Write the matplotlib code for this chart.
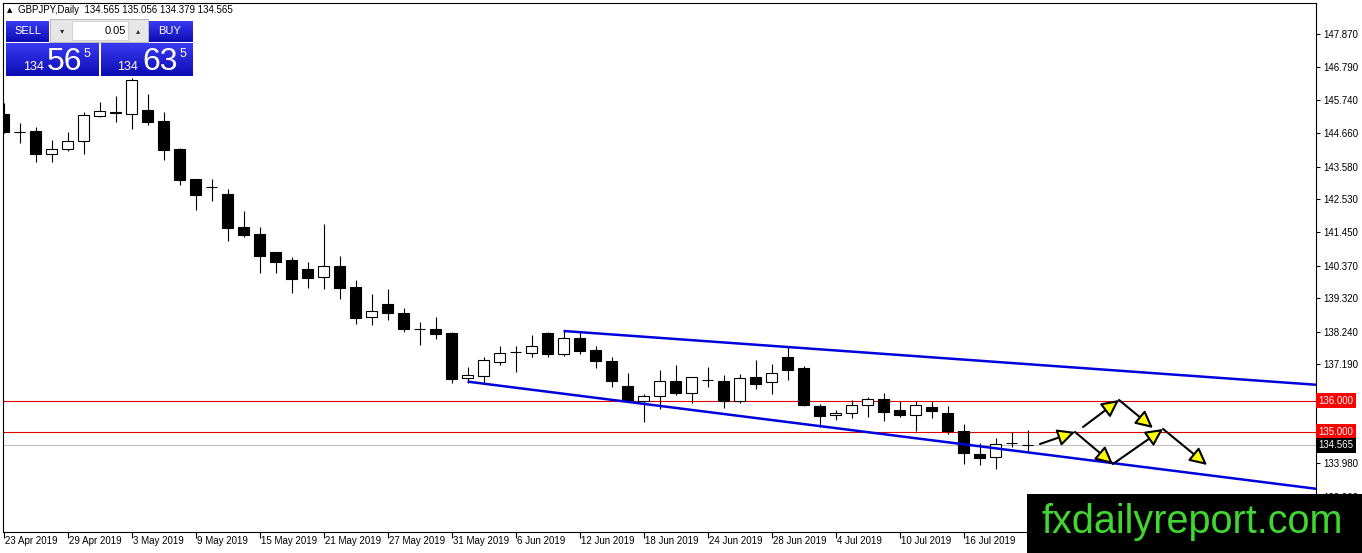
import numpy as np
import matplotlib.pyplot as plt
from matplotlib.patches import Rectangle, FancyArrowPatch
from matplotlib.colors import LinearSegmentedColormap

W, H = 1362, 553

symbol = "GBPJPY,Daily"
last_ohlc = "134.565 135.056 134.379 134.565"

date_labels = ["23 Apr 2019", "29 Apr 2019", "3 May 2019", "9 May 2019", "15 May 2019",
               "21 May 2019", "27 May 2019", "31 May 2019", "6 Jun 2019", "12 Jun 2019",
               "18 Jun 2019", "24 Jun 2019", "28 Jun 2019", "4 Jul 2019", "10 Jul 2019",
               "16 Jul 2019"]

opens = [145.281, 144.698, 144.731, 143.986, 144.148, 144.407, 145.216, 145.330, 145.281, 145.410,
         145.054, 144.148, 143.177, 142.918, 142.692, 141.624, 141.397, 140.815, 140.556, 140.265,
         140.006, 140.362, 139.682, 138.711, 139.132, 138.841, 138.323, 138.323, 138.193, 136.737,
         136.802, 137.255, 137.579, 137.546, 138.193, 137.514, 138.032, 137.643, 137.287, 136.478,
         135.993, 136.155, 136.640, 136.252, 136.672, 136.640, 135.993, 136.770, 136.608, 137.417,
         137.061, 135.831, 135.540, 135.604, 135.863, 136.058, 135.702, 135.540, 135.799, 135.604,
         135.022, 134.278, 134.180, 134.634, 134.565]
highs = [145.637, 144.989, 144.860, 144.439, 144.698, 145.345, 145.669, 145.863, 146.446, 145.928,
         145.345, 144.180, 143.177, 143.177, 142.854, 142.142, 141.624, 140.815, 140.653, 140.491,
         141.721, 140.685, 139.909, 139.456, 139.617, 139.003, 138.549, 138.711, 138.226, 137.093,
         137.417, 137.773, 137.773, 138.129, 138.226, 138.258, 138.226, 137.773, 137.417, 136.899,
         136.219, 136.996, 137.158, 136.770, 137.093, 136.834, 136.867, 137.320, 137.190, 137.740,
         137.125, 135.896, 135.702, 136.025, 136.122, 136.252, 135.993, 135.993, 135.993, 135.831,
         135.249, 134.634, 134.795, 134.990, 135.056]
lows = [144.666, 144.342, 143.727, 143.727, 144.083, 143.986, 145.184, 145.022, 144.795, 144.925,
        143.792, 142.983, 142.174, 142.465, 141.171, 141.300, 140.135, 140.135, 139.488, 139.650,
        139.617, 139.294, 138.485, 138.452, 138.614, 138.226, 137.805, 137.999, 136.575, 136.575,
        136.543, 137.158, 136.931, 137.417, 137.417, 137.449, 137.514, 137.061, 136.446, 135.960,
        135.313, 135.734, 136.187, 135.928, 136.446, 135.766, 135.928, 136.381, 136.219, 136.672,
        135.831, 135.151, 135.378, 135.443, 135.475, 135.346, 135.475, 135.022, 135.443, 134.925,
        133.954, 133.922, 133.792, 134.504, 134.379]
closes = [144.698, 144.690, 143.986, 144.148, 144.407, 145.248, 145.378, 145.300, 146.381, 145.022,
          144.116, 143.145, 142.659, 142.910, 141.591, 141.365, 140.685, 140.491, 139.941, 139.973,
          140.362, 139.650, 138.679, 138.905, 138.841, 138.323, 138.310, 138.161, 136.705, 136.834,
          137.320, 137.546, 137.590, 137.773, 137.514, 138.032, 137.611, 137.287, 136.640, 135.993,
          136.155, 136.640, 136.252, 136.770, 136.660, 135.993, 136.737, 136.543, 136.899, 136.996,
          135.863, 135.507, 135.604, 135.863, 136.058, 135.637, 135.540, 135.863, 135.669, 135.022,
          134.310, 134.148, 134.601, 134.620, 134.565]

price_ticks = [147.870, 146.790, 145.740, 144.660, 143.580, 142.530, 141.450, 140.370,
               139.320, 138.240, 137.190, 136.110, 135.060, 133.980, 132.900]
hidden_ticks = [136.110, 135.060]  # labels covered by the level boxes
levels = [136.000, 135.000]
bid = 134.565

# trend channel anchors (bar index, price)
upper_line = [(35, 138.258), (49, 137.740)]
lower_line = [(29, 136.620), (64, 134.331)]

# forecast zig-zag arrows (bar index, price)
forecast = [((64.78, 134.601), (66.97, 134.990)),
            ((66.97, 134.990), (69.34, 133.954)),
            ((67.47, 135.151), (69.72, 136.025)),
            ((69.72, 136.025), (71.84, 135.119)),
            ((69.34, 133.954), (72.47, 135.087)),
            ((72.47, 135.087), (75.22, 133.922))]

sell_price = ("134", "56", "5")
buy_price = ("134", "63", "5")
lot = "0.05"


def fx(px):
    return px / W


def fy(py):
    return 1 - py / H


fig = plt.figure(figsize=(W / 100, H / 100), dpi=100)
ax = fig.add_axes([fx(2.7), fy(532), fx(1316) - fx(2.7), fy(2.5) - fy(532)])

x_min, x_max = -0.05, 82.03
ax.set_xlim(x_min, x_max)
ax.set_ylim(131.753, 148.889)

# candles
n = len(opens)
idx = np.arange(n)
o = np.array(opens); c = np.array(closes)
ax.vlines(idx, lows, highs, color="black", lw=0.8, zorder=3)
bull = c >= o
bottoms = np.minimum(o, c)
heights = np.abs(c - o)
ax.bar(idx[bull], heights[bull], bottom=bottoms[bull], width=0.65,
       color="white", edgecolor="black", lw=0.8, zorder=4)
ax.bar(idx[~bull], heights[~bull], bottom=bottoms[~bull], width=0.65,
       color="black", edgecolor="black", lw=0.8, zorder=4)

# horizontal levels
box_kw = dict(transform=ax.get_yaxis_transform(), color="white", fontsize=7,
              family="Liberation Sans", va="center", ha="left", zorder=10, clip_on=False)
for lv in levels:
    ax.axhline(lv, color="#e00000", lw=0.8, zorder=2)
    ax.text(1.0018, lv, f"{lv:.3f}", bbox=dict(boxstyle="square,pad=0.25", fc="#ff0000", ec="none"),
            **box_kw)
ax.axhline(bid, color="#c0c0c0", lw=0.8, zorder=1)
ax.text(1.0018, bid, f"{bid:.3f}", bbox=dict(boxstyle="square,pad=0.25", fc="black", ec="none"),
        **box_kw)

# channel rays
for (x0, y0), (x1, y1) in (upper_line, lower_line):
    slope = (y1 - y0) / (x1 - x0)
    ax.plot([x0, x_max], [y0, y0 + slope * (x_max - x0)], color="#0000dd", lw=1.8, zorder=5,
            solid_capstyle="butt")

# forecast arrows
for p0, p1 in forecast:
    ax.add_patch(FancyArrowPatch(p0, p1, arrowstyle="-|>,head_length=0.8,head_width=0.4",
                                 mutation_scale=13, fc="#ffff00", ec="black", lw=1.5,
                                 shrinkA=0, shrinkB=0, zorder=6))

# axes styling
for sp in ax.spines.values():
    sp.set_color("black")
    sp.set_linewidth(0.8)
ax.yaxis.tick_right()
ax.set_yticks(price_ticks)
ax.set_yticklabels(["" if t in hidden_ticks else f"{t:.3f}" for t in price_ticks])
ax.tick_params(axis="y", direction="out", length=3, width=0.8, labelsize=7, pad=2)
for lab in ax.get_yticklabels():
    lab.set_family("Liberation Sans")
ax.set_xticks(np.arange(0, len(date_labels) * 4, 4))
ax.tick_params(axis="x", direction="out", length=4, width=0.8, labelbottom=False)
for i, lab in enumerate(date_labels):
    ax.text(i * 4 + 0.12, -0.017, lab, transform=ax.get_xaxis_transform(), fontsize=7,
            family="Liberation Sans", ha="left", va="center", clip_on=False)

# header
fig.text(fx(7), fy(10), "\u25b2", fontsize=5, va="center", ha="left")
fig.text(fx(18), fy(10), f"{symbol}  {last_ohlc}", fontsize=7, family="Liberation Sans",
         va="center", ha="left")

# one-click trading panel
grad = LinearSegmentedColormap.from_list("btn", ["#3a3af2", "#0c0cb4"])
g = np.linspace(0, 1, 64).reshape(-1, 1)


def blue_box(x0, y0, x1, y1):
    bax = fig.add_axes([fx(x0), fy(y1), fx(x1) - fx(x0), fy(y0) - fy(y1)], zorder=5)
    bax.imshow(g, aspect="auto", cmap=grad)
    bax.set_axis_off()


fig.patches.append(Rectangle((fx(50), fy(42)), fx(148) - fx(50), fy(19) - fy(42),
                             transform=fig.transFigure, fc="#e6e6e6", ec="#b0b0b0", lw=0.6, zorder=4))
fig.patches.append(Rectangle((fx(72), fy(40)), fx(128) - fx(72), fy(21) - fy(40),
                             transform=fig.transFigure, fc="white", ec="#c8c8c8", lw=0.5, zorder=4))
blue_box(6, 21, 49, 42)
blue_box(149, 21, 193, 42)
blue_box(6, 43, 99, 76)
blue_box(101, 43, 193, 76)

txt = dict(color="white", family="Liberation Sans", zorder=10)
fig.text(fx(27.5), fy(31), "SELL", fontsize=8, ha="center", va="center", **txt)
fig.text(fx(170), fy(31), "BUY", fontsize=8, ha="center", va="center", **txt)
fig.text(fx(62), fy(31), "\u25be", fontsize=6, ha="center", va="center", color="#333333", zorder=10)
fig.text(fx(138), fy(31), "\u25b4", fontsize=6, ha="center", va="center", color="#333333", zorder=10)
fig.text(fx(126), fy(31), lot, fontsize=8, ha="right", va="center", color="black",
         family="Liberation Sans", zorder=10)
for (small, big, sup), (xs, xb, xp) in ((sell_price, (23, 47, 84)), (buy_price, (117, 142, 180))):
    fig.text(fx(xs), fy(70), small, fontsize=9, ha="left", va="baseline", **txt)
    fig.text(fx(xb), fy(70), big, fontsize=23, ha="left", va="baseline", **txt)
    fig.text(fx(xp), fy(57), sup, fontsize=9, ha="left", va="baseline", **txt)

# watermark
fig.patches.append(Rectangle((fx(1027), 0), 1 - fx(1027), fy(494), transform=fig.transFigure,
                             fc="black", ec="none", zorder=8))
fig.text(fx(1042), fy(533), "fxdailyreport.com", fontsize=28.5, family="Liberation Sans",
         color="#40d830", ha="left", va="baseline", zorder=9)

fig.savefig("out.png", dpi=100, facecolor="white")
